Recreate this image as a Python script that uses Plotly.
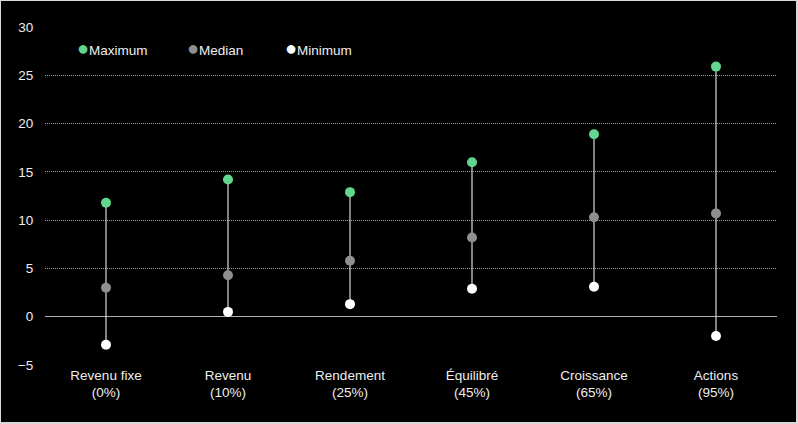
import plotly.graph_objects as go

categories = ["Revenu fixe<br>(0%)", "Revenu<br>(10%)", "Rendement<br>(25%)",
              "Équilibré<br>(45%)", "Croissance<br>(65%)", "Actions<br>(95%)"]
maximum = [11.8, 14.2, 12.9, 16.0, 18.9, 25.9]
median = [3.0, 4.3, 5.8, 8.2, 10.3, 10.7]
minimum = [-2.9, 0.5, 1.3, 2.9, 3.1, -2.0]
y_ticks = [-5, 0, 5, 10, 15, 20, 25, 30]

GREEN = "#62d68c"
GRAY = "#8f8f8f"
WHITE = "#ffffff"
LINE = "#c8c8c8"
TEXT = "#eeeeee"
FONT = "Liberation Sans, Arial, sans-serif"

fig = go.Figure()

# vertical range lines
lx, ly = [], []
for c, lo, hi in zip(categories, minimum, maximum):
    lx += [c, c, None]
    ly += [lo, hi, None]
fig.add_trace(go.Scatter(x=lx, y=ly, mode="lines", line=dict(color=LINE, width=1.3),
                         showlegend=False, hoverinfo="skip"))

for name, vals, col in [("Maximum", maximum, GREEN), ("Median", median, GRAY), ("Minimum", minimum, WHITE)]:
    fig.add_trace(go.Scatter(x=categories, y=vals, mode="markers", name=name,
                             marker=dict(color=col, size=10, line=dict(width=0)),
                             showlegend=False))

# figure is offset 1px inside a light frame
L, R, T, B = 44, 19, 26, 57
FW, FH = 795, 421
PW = FW - L - R
PH = FH - T - B

# legend as annotations
legend_items = [("Maximum", GREEN, 75), ("Median", GRAY, 185), ("Minimum", WHITE, 283)]
for name, col, px in legend_items:
    fig.add_annotation(xref="paper", yref="paper", x=(px - 1 - L) / PW, y=(365 - 48) / PH,
                       xanchor="left", yanchor="middle", showarrow=False,
                       text=f"<span style='color:{col};font-size:20px'>●</span>{name}",
                       font=dict(family=FONT, size=13.5, color=TEXT))

fig.update_layout(
    width=FW, height=FH,
    paper_bgcolor="#000000", plot_bgcolor="#000000",
    margin=dict(l=L, r=R, t=T, b=B),
    font=dict(family=FONT, size=13.5, color=TEXT),
    xaxis=dict(type="category", range=[-0.5, len(categories) - 0.5], showgrid=False,
               zeroline=False, showline=False,
               ticks="", tickfont=dict(size=13.5, color=TEXT), fixedrange=True),
    yaxis=dict(range=[-5, 30], tickvals=y_ticks, showgrid=True, gridcolor="#a0a0a0",
               griddash="1px,1px", gridwidth=1, zeroline=True, zerolinecolor="#b0b0b0",
               zerolinewidth=1.3, showline=False, ticks="outside", ticklen=8,
               tickcolor="rgba(0,0,0,0)", tickfont=dict(size=13.5, color=TEXT)),
)

post = ("document.body.style.margin='0';"
        "document.body.style.padding='1px 0 0 1px';"
        "document.body.style.background='#d8d8d8';")
fig.write_html("out.html", post_script=post)
